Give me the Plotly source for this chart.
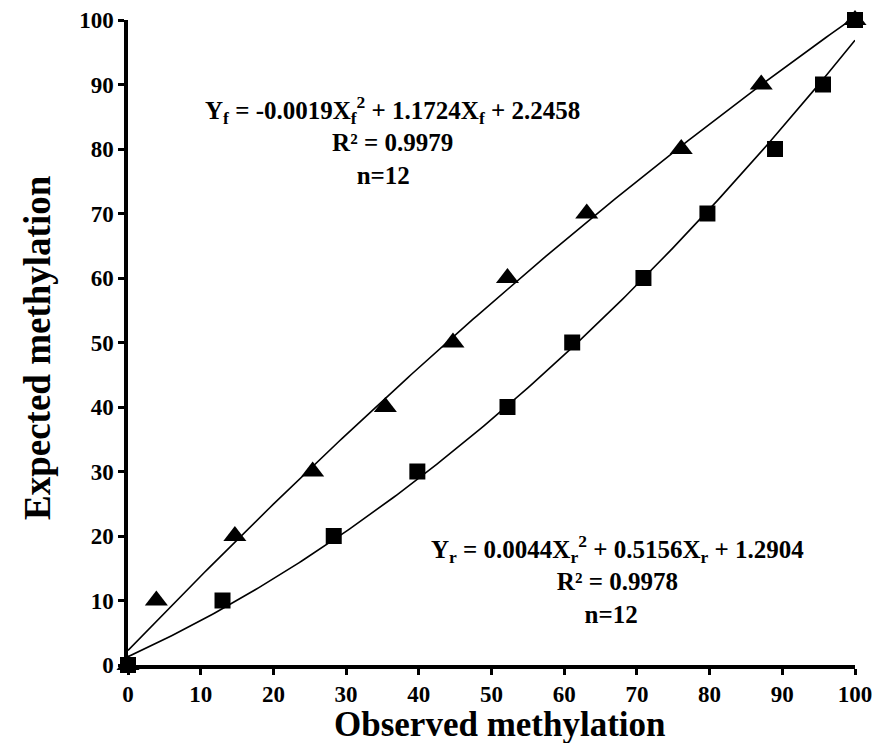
import numpy as np
import plotly.graph_objects as go

# Data
expected = [0, 10, 20, 30, 40, 50, 60, 70, 80, 90, 100]
observed_f = [0, 3.9, 14.7, 25.4, 35.4, 44.7, 52.2, 63.1, 76.1, 87.1, 100]
observed_r = [0, 13.0, 28.3, 39.8, 52.2, 61.1, 70.9, 79.7, 89.0, 95.6, 100]

# Fitted polynomial coefficients shown in the chart (a2, a1, a0)
coef_f = [-0.0019, 1.1724, 2.2458]
coef_r = [0.0044, 0.5156, 1.2904]

tick_vals = [0, 10, 20, 30, 40, 50, 60, 70, 80, 90, 100]

xfit = np.linspace(0, 100, 201)
yfit_f = np.polyval(coef_f, xfit)
yfit_r = np.polyval(coef_r, xfit)

FONT = "Liberation Serif"
OFF = 8  # page body margin
W, H = 866, 735
L, R, T, B = 120, 19, 12, 78
pw, ph = W - L - R, H - T - B

fig = go.Figure()
fig.add_trace(go.Scatter(x=xfit, y=yfit_f, mode="lines",
                         line=dict(color="black", width=1.6), showlegend=False,
                         cliponaxis=False))
fig.add_trace(go.Scatter(x=xfit, y=yfit_r, mode="lines",
                         line=dict(color="black", width=1.6), showlegend=False,
                         cliponaxis=False))
fig.add_trace(go.Scatter(x=observed_f, y=expected, mode="markers",
                         marker=dict(symbol="triangle-up", size=20, color="black"),
                         showlegend=False, cliponaxis=False))
fig.add_trace(go.Scatter(x=observed_r, y=expected, mode="markers",
                         marker=dict(symbol="square", size=16, color="black"),
                         showlegend=False, cliponaxis=False))


def px2paper(xp, yp):
    return (xp - OFF - L) / pw, 1 - (yp - OFF - T) / ph


ann_font = dict(family=FONT, size=25, color="black")
blocks = [
    (392, 140, "<b>Y<sub>f</sub> = -0.0019X<sub>f</sub><sup>2</sup> + 1.1724X<sub>f</sub> + 2.2458"
               "<br>R² = 0.9979<br>n=12   </b>"),
    (617, 579, "<b>Y<sub>r</sub> = 0.0044X<sub>r</sub><sup>2</sup> + 0.5156X<sub>r</sub> + 1.2904"
               "<br>R² = 0.9978<br>n=12  </b>"),
]
anns = []
for xp, yp, txt in blocks:
    xa, ya = px2paper(xp, yp)
    anns.append(dict(x=xa, y=ya, xref="paper", yref="paper", text=txt, showarrow=False,
                     font=ann_font, xanchor="center", yanchor="middle", align="center"))

xa, ya = px2paper(500, 724)
anns.append(dict(x=xa, y=ya, xref="paper", yref="paper", text="<b>Observed methylation</b>",
                 showarrow=False, font=dict(family=FONT, size=35, color="black"),
                 xanchor="center", yanchor="middle"))
xa, ya = px2paper(37, 348)
anns.append(dict(x=xa, y=ya, xref="paper", yref="paper", text="<b>Expected methylation</b>",
                 showarrow=False, font=dict(family=FONT, size=37, color="black"),
                 xanchor="center", yanchor="middle", textangle=-90))

axis_common = dict(
    showgrid=False, zeroline=False, showline=True, linecolor="black", linewidth=3.5,
    ticks="outside", ticklen=6, tickwidth=2.5, tickcolor="black",
    tickfont=dict(family=FONT, size=23, color="black"),
    tickvals=tick_vals, ticktext=[f"<b>{v}</b>" for v in tick_vals],
    range=[0, 100], fixedrange=True, automargin=False,
)

fig.update_layout(
    width=W, height=H,
    margin=dict(l=L, r=R, t=T, b=B),
    paper_bgcolor="white", plot_bgcolor="white",
    annotations=anns,
    xaxis=dict(**axis_common),
    yaxis=dict(**axis_common),
)

fig.write_html("out.html")
